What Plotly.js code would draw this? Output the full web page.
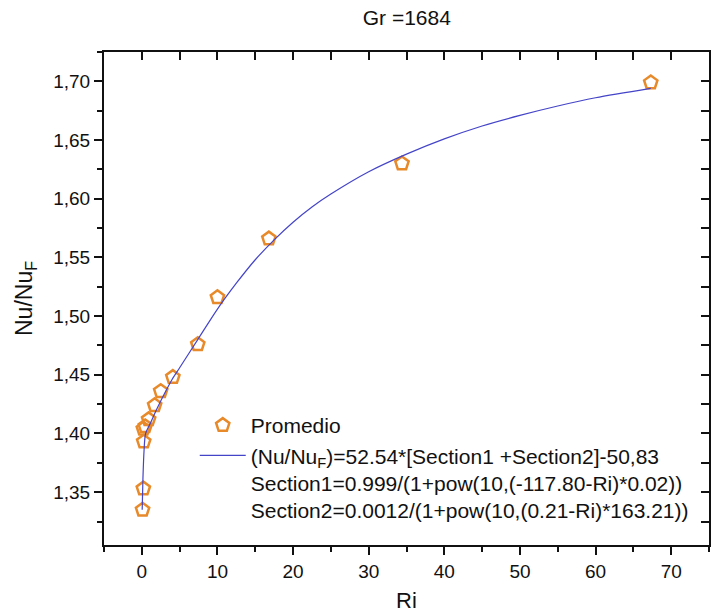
<!DOCTYPE html>
<html>
<head>
<meta charset="utf-8">
<script src="https://cdn.plot.ly/plotly-3.0.1.min.js"></script>
<style>body{margin:0;padding:0;background:#fff;}#chart{width:720px;height:616px;}</style>
</head>
<body>
<div id="chart"></div>
<script>
// Measured points (Promedio)
const riData = [67.3, 34.4, 16.8, 10.0, 7.4, 4.1, 2.5, 1.7, 0.9, 0.45, 0.2, 0.25, 0.2, 0.1];
const nuData = [1.699, 1.630, 1.566, 1.516, 1.476, 1.448, 1.436, 1.424, 1.412, 1.406, 1.404, 1.393, 1.353, 1.335];

// Fitted curve
const riFit = [0.05, 0.15, 0.3, 0.5, 1.0, 1.5, 2, 3, 4, 5, 7.5, 10, 12.5, 15, 17.5, 20, 22.5, 25, 30, 35, 40, 45, 50, 55, 60, 67.3];
const nuFit = [1.335, 1.362, 1.386, 1.400, 1.407, 1.414, 1.421, 1.434, 1.446, 1.456, 1.481, 1.506, 1.528, 1.548, 1.565, 1.580, 1.593, 1.604, 1.623, 1.638, 1.651, 1.662, 1.671, 1.679, 1.686, 1.694];

const titleText = 'Gr =1684';
const xTitle = 'Ri';
const yTitle = 'Nu/Nu<sub>F</sub>';
const name1 = 'Promedio';
const name2 = '(Nu/Nu<sub>F</sub>)=52.54*[Section1 +Section2]-50,83<br>Section1=0.999/(1+pow(10,(-117.80-Ri)*0.02))<br>Section2=0.0012/(1+pow(10,(0.21-Ri)*163.21))';

const xRange = [-5, 75];
const yRange = [1.305, 1.725];

const fam = 'Liberation Sans, Arial, sans-serif';
const ink = '#111';

const traces = [
  {
    x: riData, y: nuData, name: name1, type: 'scatter', mode: 'markers',
    marker: {symbol: 'pentagon-open', size: 14, color: '#E8892A', line: {width: 2.5, color: '#E8892A'}}
  },
  {
    x: riFit, y: nuFit, name: name2, type: 'scatter', mode: 'lines',
    line: {color: '#4444C8', width: 1.2, shape: 'spline', smoothing: 0.8}
  },
  // invisible helper for inner-tick top/right axes
  {x: xRange, y: yRange, xaxis: 'x2', yaxis: 'y2', mode: 'markers', marker: {opacity: 0}, showlegend: false, hoverinfo: 'skip'}
];

const layout = {
  width: 720, height: 616,
  margin: {l: 104, r: 11, t: 52, b: 71},
  paper_bgcolor: '#fff', plot_bgcolor: '#fff',
  separators: ',.',
  font: {family: fam, size: 19, color: ink},
  title: {text: titleText, font: {family: fam, size: 21, color: ink}, x: 0.565, xanchor: 'center', y: 0.972, yanchor: 'middle'},
  showlegend: true,
  legend: {
    x: 0.150, y: 0.284, xanchor: 'left', yanchor: 'top',
    bgcolor: 'rgba(0,0,0,0)', borderwidth: 0, valign: 'top',
    itemwidth: 46,
    font: {family: fam, size: 21, color: ink},
    tracegroupgap: 0
  },
  xaxis: {
    range: xRange, showgrid: false, zeroline: false,
    showline: true, linecolor: ink, linewidth: 2,
    ticks: 'outside', ticklen: 8, tickwidth: 2, tickcolor: ink,
    dtick: 10, tick0: 0,
    minor: {dtick: 5, ticks: 'outside', ticklen: 5, tickwidth: 2, tickcolor: ink, showgrid: false},
    tickfont: {family: fam, size: 19, color: ink},
    title: {text: xTitle, font: {family: fam, size: 22, color: ink}, standoff: 12}
  },
  yaxis: {
    range: yRange, showgrid: false, zeroline: false,
    showline: true, linecolor: ink, linewidth: 2,
    ticks: 'outside', ticklen: 8, tickwidth: 2, tickcolor: ink,
    dtick: 0.05, tick0: 1.35, tickformat: '.2f',
    minor: {dtick: 0.025, ticks: 'outside', ticklen: 5, tickwidth: 2, tickcolor: ink, showgrid: false},
    tickfont: {family: fam, size: 19, color: ink},
    title: {text: yTitle, font: {family: fam, size: 23, color: ink}, standoff: 14}
  },
  xaxis2: {
    range: xRange, overlaying: 'x', side: 'top', anchor: 'y2',
    showgrid: false, zeroline: false, showline: true, linecolor: ink, linewidth: 2,
    ticks: 'inside', ticklen: 8, tickwidth: 2, tickcolor: ink, dtick: 5, tick0: 0,
    showticklabels: false
  },
  yaxis2: {
    range: yRange, overlaying: 'y', side: 'right', anchor: 'x2',
    showgrid: false, zeroline: false, showline: true, linecolor: ink, linewidth: 2,
    ticks: 'inside', ticklen: 8, tickwidth: 2, tickcolor: ink, dtick: 0.025, tick0: 1.35,
    showticklabels: false
  }
};

Plotly.newPlot('chart', traces, layout, {displayModeBar: false, staticPlot: true});
</script>
</body>
</html>
